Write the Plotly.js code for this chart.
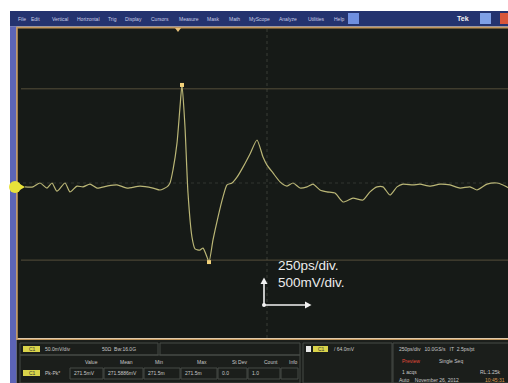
<!DOCTYPE html>
<html><head><meta charset="utf-8">
<script src="https://cdn.plot.ly/plotly-3.0.1.min.js"></script>
<style>html,body{margin:0;padding:0;overflow:hidden;background:#fff}#chart{width:520px;height:383px}</style>
</head><body><div id="chart"></div><script>
// ---- data (time in ps, voltage in mV) ----
const timePs = [40,80,115,150,175,200,240,265,300,330,365,400,450,500,550,615,680,715,750,765,780,800,815,825,840,855,875,890,915,930,950,960,980,1005,1030,1050,1075,1100,1130,1165,1200,1230,1250,1280,1315,1350,1380,1415,1450,1480,1515,1550,1590,1630,1680,1730,1765,1800,1830,1865,1900,1930,1980,2015,2065,2115,2165,2215,2265,2300,2350,2400,2430,2460,2500];
const voltageMv = [-50,-50,0,-65,0,-105,0,-115,-40,-50,-15,-65,-40,-25,-65,-40,-65,-90,-50,0,170,515,980,1265,720,-130,-700,-850,-865,-840,-955,-1020,-735,-440,-180,-25,0,75,205,375,555,335,230,130,15,-40,0,-65,-50,-15,-90,-115,-130,-245,-195,-220,-115,-50,-50,-155,-50,-15,-25,-15,-40,-15,-25,-65,-50,-90,-15,0,-25,-65,-40];
const cursorLevelsMv = [1215, -995];
const scaleLabels = ['250ps/div.', '500mV/div.'];
const menuItems = ['File','Edit','Vertical','Horizontal','Trig','Display','Cursors','Measure','Mask','Math','MyScope','Analyze','Utilities','Help'];
const menuPx = [16,29,50,75,106,123,149,177,205,227,247,277,306,332];
const tableHeaders = ['Value','Mean','Min','Max','St Dev','Count','Info'];
const tableHeaderPx = [83,118,153,195,230,262,287];
const tableValues = ['271.5mV','271.5886mV','271.5m','271.5m','0.0','1.0'];
const tableValuePx = [72,106,146,183,220,250];

// ---- layout helpers (pixel -> paper) ----
const L = 17, T = 28, W = 500, H = 310;
const px = p => (p - L) / W;
const py = p => (T + H - p) / H;

let iMax = 0, iMin = 0;
voltageMv.forEach((v, i) => { if (v > voltageMv[iMax]) iMax = i; if (v < voltageMv[iMin]) iMin = i; });

const shapes = [];
const ann = [];
const P = pts => 'M ' + pts.map(p => px(p[0]) + ' ' + py(p[1])).join(' L ') + ' Z';
// menubar
shapes.push({type:'rect', xref:'paper', yref:'paper', x0:px(10), x1:px(520), y0:py(26.5), y1:py(11), fillcolor:'#24336f', line:{width:0}, layer:'below'});
// left strip
shapes.push({type:'rect', xref:'paper', yref:'paper', x0:px(10), x1:px(16.5), y0:py(383), y1:py(26.5), fillcolor:'#5c64b6', line:{width:0}});
// bottom panel
shapes.push({type:'rect', xref:'paper', yref:'paper', x0:px(16.5), x1:px(520), y0:py(383), y1:py(340), fillcolor:'#1b1e1b', line:{width:0}});
// orange frame
shapes.push({type:'rect', xref:'paper', yref:'paper', x0:px(17), x1:px(522), y0:py(339.3), y1:py(27.6), line:{color:'#c2955a', width:1.6}});
// center graticule
shapes.push({type:'line', xref:'x', yref:'paper', x0:1250, x1:1250, y0:0, y1:1, line:{color:'rgba(150,150,140,0.28)', width:1, dash:'dot'}});
shapes.push({type:'line', xref:'paper', yref:'y', x0:0, x1:1, y0:0, y1:0, line:{color:'rgba(150,150,140,0.22)', width:1, dash:'dot'}});
// measurement cursor lines
cursorLevelsMv.forEach(v => shapes.push({type:'line', xref:'paper', yref:'y', x0:px(21), x1:1, y0:v, y1:v, line:{color:'rgba(180,158,112,0.40)', width:1}}));
// trigger marker
shapes.push({type:'path', xref:'paper', yref:'paper', path:P([[175,28],[181,28],[178,32]]), fillcolor:'#e6bf78', line:{width:0}});
// channel 1 marker
shapes.push({type:'circle', xref:'paper', yref:'paper', x0:px(9), x1:px(21), y0:py(193), y1:py(181), fillcolor:'#e8e23a', line:{width:0}});
shapes.push({type:'path', xref:'paper', yref:'paper', path:P([[19,183.5],[25,187],[19,190.5]]), fillcolor:'#e8e23a', line:{width:0}});
// scale arrows
shapes.push({type:'line', xref:'paper', yref:'paper', x0:px(264), x1:px(264), y0:py(305), y1:py(282), line:{color:'#f2f2f2', width:1.6}});
shapes.push({type:'path', xref:'paper', yref:'paper', path:P([[260.5,284],[267.5,284],[264,277.5]]), fillcolor:'#f2f2f2', line:{width:0}});
shapes.push({type:'line', xref:'paper', yref:'paper', x0:px(264), x1:px(307), y0:py(305), y1:py(305), line:{color:'#f2f2f2', width:1.6}});
shapes.push({type:'path', xref:'paper', yref:'paper', path:P([[305,301.5],[305,308.5],[311.5,305]]), fillcolor:'#f2f2f2', line:{width:0}});
shapes.push({type:'circle', xref:'paper', yref:'paper', x0:px(262), x1:px(266), y0:py(307), y1:py(303), fillcolor:'#f2f2f2', line:{width:0}});
// bottom panel boxes
const box = (x0,x1,y0,y1,c) => shapes.push({type:'rect', xref:'paper', yref:'paper', x0:px(x0), x1:px(x1), y0:py(y1), y1:py(y0), line:{color:c||'#474b47', width:1}});
box(20,158,343,355); box(160,300,343,355); box(20,300,355,383);
box(70,103,368,379); box(104,143,368,379); box(144,180,368,379); box(181,217,368,379); box(218,247,368,379); box(248,280,368,379); box(281,298,368,379);
box(303,392,343,383); box(393,522,343,383);
// yellow pills
[349, 373].forEach(y => shapes.push({type:'rect', xref:'paper', yref:'paper', x0:px(23), x1:px(40), y0:py(y+3), y1:py(y-3), fillcolor:'#d9d34a', line:{width:0}}));
shapes.push({type:'rect', xref:'paper', yref:'paper', x0:px(313), x1:px(328), y0:py(352), y1:py(346), fillcolor:'#d9d34a', line:{width:0}});
shapes.push({type:'rect', xref:'paper', yref:'paper', x0:px(306), x1:px(311), y0:py(352), y1:py(346), fillcolor:'#e8e8e8', line:{width:0}});
// menubar button & icons
shapes.push({type:'rect', xref:'paper', yref:'paper', x0:px(348), x1:px(359), y0:py(24), y1:py(13), fillcolor:'#6f8fe0', line:{width:0}});
shapes.push({type:'rect', xref:'paper', yref:'paper', x0:px(480), x1:px(491), y0:py(24), y1:py(13), fillcolor:'#7fa0e6', line:{width:0}});
shapes.push({type:'rect', xref:'paper', yref:'paper', x0:px(500), x1:px(511), y0:py(24), y1:py(13), fillcolor:'#d8563a', line:{width:0}});

const txt = (s, x, y, size, color) => ann.push({text:s, xref:'paper', yref:'paper', x:px(x), y:py(y), xanchor:'left', yanchor:'middle', showarrow:false, font:{family:'Liberation Sans, Arial, sans-serif', size:size, color:color}});
menuItems.forEach((m, i) => txt(m, menuPx[i], 19, 5, '#c9cde6'));
txt('<b>Tek</b>', 455, 19, 7, '#f2f2f2');
// bottom texts
txt('C1', 27, 349, 5, '#333');
txt('50.0mV/div', 43, 349, 5, '#c8c8c8');
txt('50Ω  Bw:16.0G', 100, 349, 5, '#c8c8c8');
tableHeaders.forEach((h, i) => txt(h, tableHeaderPx[i], 362, 5, '#c8c8c8'));
txt('C1', 27, 373, 5, '#333');
txt('Pk-Pk*', 43, 373, 5, '#c8c8c8');
tableValues.forEach((v, i) => txt(v, tableValuePx[i], 373, 5, '#c8c8c8'));
txt('C1', 316, 349, 5, '#333');
txt('/ 64.0mV', 332, 349, 5, '#c8c8c8');
txt('250ps/div   10.0GS/s   IT  2.5ps/pt', 397, 349, 5, '#c8c8c8');
txt('Preview', 400, 361, 5, '#e04a3a');
txt('Single Seq', 437, 361, 5, '#c8c8c8');
txt('1 acqs', 400, 372, 5, '#c8c8c8');
txt('RL:1.25k', 478, 372, 5, '#c8c8c8');
txt('Auto    November 26, 2012', 397, 380, 5, '#c8c8c8');
txt('10:45:31', 483, 380, 5, '#d89a50');

// scale labels (data coords)
scaleLabels.forEach((s, i) => ann.push({text:s, x:1293, y:[-1058,-1290][i], xref:'x', yref:'y', xanchor:'left', yanchor:'middle', showarrow:false, font:{family:'Liberation Sans, Arial, sans-serif', size:13.5, color:'#ececec'}}));

const traces = [
  {x:timePs, y:voltageMv, type:'scatter', mode:'lines', line:{color:'#bab676', width:1.2, shape:'spline', smoothing:0.6}, hoverinfo:'skip'},
  {x:[timePs[iMax], timePs[iMin]], y:[voltageMv[iMax], voltageMv[iMin]], type:'scatter', mode:'markers', marker:{symbol:'square', size:4, color:'#f2d27a'}, hoverinfo:'skip'}
];
const layout = {
  width:520, height:383, showlegend:false,
  margin:{l:L, r:520-L-W, t:T, b:383-T-H, pad:0},
  paper_bgcolor:'#ffffff', plot_bgcolor:'#161a17',
  xaxis:{range:[0,2500], showgrid:false, zeroline:false, showticklabels:false, showline:false, fixedrange:true},
  yaxis:{range:[-2000,2000], showgrid:false, zeroline:false, showticklabels:false, showline:false, fixedrange:true},
  shapes:shapes, annotations:ann
};
Plotly.newPlot('chart', traces, layout, {staticPlot:true, displayModeBar:false});
</script></body></html>
